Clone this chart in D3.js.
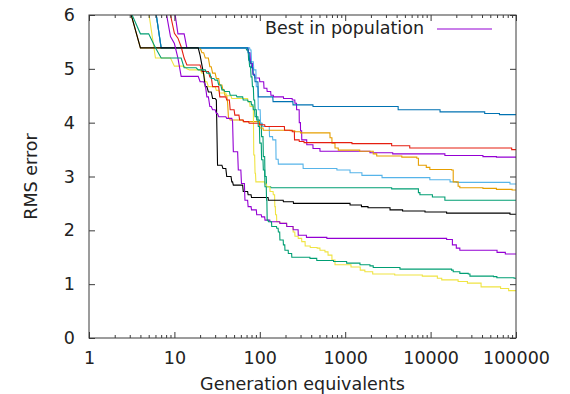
<!DOCTYPE html>
<html lang="en">
  <head>
    <meta charset="utf-8">
    <title>RMS error vs generation equivalents</title>
    <script type="text/javascript" src="https://d3js.org/d3.v7.min.js"></script>
    <style>
      body { margin: 0; background: #fff; }
      text { font-family: "DejaVu Sans", sans-serif; fill: #222; }
    </style>
  </head>
  <body>
    <svg class="chart"></svg>
  </body>

  <script>
    //Constants
    const width = 570, height = 394;
    const plotLeft = 89, plotRight = 516, plotTop = 15, plotBottom = 338;
    const fontSize = 17.5;

    const xTicks = [1, 10, 100, 1000, 10000, 100000];
    const yTicks = [0, 1, 2, 3, 4, 5, 6];
    const legendLabel = "Best in population";
    const xTitle = "Generation equivalents";
    const yTitle = "RMS error";

    // gnuplot default line colours, in plotting order
    const colors = ["#9400d3", "#009e73", "#56b4e9", "#e69f00", "#f0e442",
                    "#0072b2", "#e51e10", "#000000", "#9400d3", "#009e73"];

    // each run: [generation where a new best appeared, RMS error]
    const run1 = [[1,7],[10,6.1],[11,5.65],[14,5.39],[74,5.3],[78,5.1],[83,4.9],[88,4.83],[100,4.76],[112,4.64],
      [122,4.58],[135,4.51],[145,4.48],[190,4.45],[240,4.42],[258,4.36],[270,4.24],[290,4.0],[300,3.85],[310,3.68],
      [355,3.59],[420,3.52],[507,3.47],[1950,3.44],[3600,3.42],[14700,3.39],[41000,3.37],[59000,3.36]];
    const run2 = [[1,7],[6,6.1],[7,5.39],[70,5.35],[74,5.16],[76,5.04],[79,4.85],[82,4.67],[85,4.42],[88,4.24],
      [92,4.05],[100,3.99],[105,3.74],[110,3.37],[115,3.0],[120,2.81],[135,2.79],[3500,2.77],[7200,2.7],
      [7500,2.66],[10500,2.62],[14700,2.56]];
    const run3 = [[1,7],[6,6.1],[7,5.39],[77,5.35],[80,5.13],[85,4.98],[91,4.67],[96,4.24],[102,3.99],[108,3.93],
      [130,3.74],[142,3.68],[155,3.32],[165,3.23],[322,3.15],[800,3.12],[1140,3.07],[1570,3.02],[2700,2.98],
      [9800,2.94],[16900,2.9],[20000,2.89],[85000,2.86]];
    const run4 = [[1,7],[3,6.1],[4,5.39],[21,5.3],[23,5.2],[26,5.04],[28,4.92],[31,4.82],[34,4.7],[37,4.61],
      [39,4.51],[42,4.36],[43,4.08],[45,4.05],[64,4.02],[100,3.9],[110,3.86],[226,3.85],[258,3.83],[300,3.81],
      [664,3.72],[700,3.62],[760,3.53],[830,3.49],[1480,3.47],[2130,3.42],[2340,3.38],[4600,3.36],[6900,3.34],
      [7200,3.21],[8900,3.17],[9800,3.13],[17600,3.12],[18400,2.9],[21000,2.82],[22000,2.79],[41000,2.78],
      [59000,2.76],[90000,2.75]];
    const run5 = [[1,7],[5,6.05],[6,5.2],[10,5.05],[14,5.0],[15,4.98],[21,4.92],[23,4.76],[25,4.67],[31,4.6],
      [34,4.55],[41,4.5],[47,4.45],[73,4.39],[77,4.3],[85,3.4],[88,3.06],[90,2.9],[115,2.86],[120,2.81],
      [132,2.72],[144,2.66],[150,2.44],[153,2.29],[158,2.16],[172,2.13],[207,2.07],[246,1.97],[258,1.89],
      [282,1.85],[310,1.79],[340,1.71],[390,1.68],[470,1.67],[507,1.63],[580,1.6],[630,1.54],[700,1.45],
      [760,1.36],[1170,1.32],[1500,1.26],[1700,1.23],[2100,1.19],[3800,1.17],[8000,1.15],[12000,1.11],
      [13500,1.08],[21000,1.05],[27000,1.02],[39000,0.95],[66000,0.92],[82000,0.88]];
    const run6 = [[1,7],[6,6.1],[7,5.39],[73,5.3],[76,5.13],[80,5.02],[84,4.88],[88,4.76],[96,4.48],[143,4.39],
      [245,4.33],[420,4.3],[4170,4.24],[12900,4.2],[43000,4.17],[64000,4.15]];
    const run7 = [[1,7],[9,6.0],[10,5.66],[11,5.57],[12,5.41],[13,5.2],[14,5.07],[21,4.95],[26,4.85],[28,4.67],
      [34,4.48],[41,4.42],[45,4.24],[51,4.14],[58,4.05],[65,4.02],[75,3.99],[100,3.96],[115,3.93],[195,3.86],
      [240,3.83],[255,3.68],[290,3.65],[330,3.63],[1200,3.61],[3500,3.57],[5700,3.53],[89000,3.5]];
    const run8 = [[1,7],[3,6.1],[4,5.39],[20,5.25],[21,5.07],[22,4.9],[23,4.67],[25,4.57],[28,4.45],[31,4.42],
      [32,3.21],[37,3.15],[41,3.0],[47,2.9],[49,2.84],[64,2.72],[73,2.66],[80,2.61],[126,2.56],[189,2.53],
      [248,2.5],[1140,2.47],[1550,2.44],[1850,2.42],[3350,2.38],[4700,2.36],[8600,2.34],[15400,2.32],[85000,2.3]];
    const run9 = [[1,7],[8,6.05],[9,5.6],[10,5.47],[11,5.2],[12,4.86],[20,4.76],[23,4.7],[24,4.48],[26,4.3],
      [28,4.24],[31,4.17],[33,4.11],[41,4.08],[48,4.02],[49,3.46],[56,3.12],[61,2.87],[67,2.56],[73,2.44],
      [80,2.38],[92,2.29],[105,2.25],[115,2.19],[132,2.16],[172,2.13],[207,2.07],[246,2.01],[282,1.91],
      [352,1.87],[610,1.85],[15400,1.83],[18000,1.73],[20000,1.67],[22000,1.63],[60000,1.59],[75000,1.56]];
    const run10 = [[1,7],[3,6.1],[4,5.65],[6,5.39],[7,5.2],[13,5.02],[19,4.98],[24,4.92],[27,4.82],[30,4.79],
      [33,4.7],[36,4.61],[39,4.58],[45,4.51],[54,4.48],[64,4.42],[73,4.39],[80,4.33],[84,4.24],[88,4.11],
      [96,3.93],[100,3.62],[105,3.31],[110,3.12],[115,2.81],[120,2.56],[122,2.19],[126,2.16],[138,2.07],
      [158,2.04],[165,1.97],[172,1.82],[189,1.73],[197,1.63],[216,1.57],[237,1.5],[387,1.48],[465,1.44],
      [730,1.42],[1040,1.39],[1490,1.36],[1950,1.34],[2130,1.31],[4380,1.28],[17600,1.26],[18400,1.23],
      [22000,1.2],[27600,1.19],[28900,1.15],[54500,1.14],[59700,1.12],[95000,1.11]];

    const runs = [run1, run2, run3, run4, run5, run6, run7, run8, run9, run10];

    var svg = d3.select(".chart").attr("width", width).attr("height", height);

    var x = d3.scaleLog().domain([1, 100000]).range([plotLeft, plotRight]);
    var y = d3.scaleLinear().domain([0, 6]).range([plotBottom, plotTop]);

    // minor ticks 2..9 in every decade
    var minor = [];
    for (var d = 1; d < 100000; d *= 10) {
      for (var k = 2; k < 10; k++) minor.push(d * k);
    }

    svg.append("clipPath").attr("id", "plotArea")
      .append("rect")
        .attr("x", plotLeft).attr("y", plotTop)
        .attr("width", plotRight - plotLeft).attr("height", plotBottom - plotTop);

    /*
      runs are stored as improvements only; the value is held until the
      generation before the next improvement, like the logged data
    */
    function stepPoints(run) {
      var pts = [];
      for (var i = 0; i < run.length; i++) {
        var g = run[i][0], v = run[i][1];
        pts.push([g, v]);
        var hold = i + 1 < run.length ? run[i + 1][0] - 1 : 100000;
        if (hold > g) pts.push([hold, v]);
      }
      return pts;
    }

    var line = d3.line().x(d => x(d[0])).y(d => y(d[1]));

    svg.append("g")
      .attr("clip-path", "url(#plotArea)")
      .selectAll("path")
      .data(runs)
      .enter()
      .append("path")
        .attr("fill", "none")
        .attr("stroke", (d, i) => colors[i])
        .attr("stroke-width", 1.1)
        .attr("stroke-linejoin", "miter")
        .attr("d", d => line(stepPoints(d)));

    //axes, gnuplot style: ticks point inwards and are mirrored
    var axisColor = "#3a3a3a";
    function styleAxis(g) {
      g.select(".domain").remove();
      g.selectAll(".tick line").attr("stroke", axisColor);
      g.selectAll(".tick text")
        .attr("font-size", fontSize)
        .attr("font-family", "DejaVu Sans, sans-serif")
        .attr("fill", "#222");
    }

    svg.append("g")
      .attr("transform", "translate(0," + plotBottom + ")")
      .call(d3.axisBottom(x).tickValues(xTicks).tickSize(-6).tickPadding(14).tickFormat(d3.format("d")))
      .call(styleAxis);
    svg.append("g")
      .attr("transform", "translate(0," + plotBottom + ")")
      .call(d3.axisBottom(x).tickValues(minor).tickSize(-3).tickFormat(""))
      .call(styleAxis);
    svg.append("g")
      .attr("transform", "translate(0," + plotTop + ")")
      .call(d3.axisTop(x).tickValues(xTicks).tickSize(-6).tickFormat(""))
      .call(styleAxis);
    svg.append("g")
      .attr("transform", "translate(0," + plotTop + ")")
      .call(d3.axisTop(x).tickValues(minor).tickSize(-3).tickFormat(""))
      .call(styleAxis);
    svg.append("g")
      .attr("transform", "translate(" + plotLeft + ",0)")
      .call(d3.axisLeft(y).tickValues(yTicks).tickSize(-6).tickPadding(14).tickFormat(d3.format("d")))
      .call(styleAxis);
    svg.append("g")
      .attr("transform", "translate(" + plotRight + ",0)")
      .call(d3.axisRight(y).tickValues(yTicks).tickSize(-6).tickFormat(""))
      .call(styleAxis);

    svg.append("rect")
      .attr("x", plotLeft).attr("y", plotTop)
      .attr("width", plotRight - plotLeft).attr("height", plotBottom - plotTop)
      .attr("fill", "none")
      .attr("stroke", axisColor)
      .attr("stroke-width", 1);

    //axis titles
    svg.append("text")
      .attr("x", (plotLeft + plotRight) / 2)
      .attr("y", 390)
      .attr("text-anchor", "middle")
      .attr("font-size", fontSize)
      .text(xTitle);

    svg.append("text")
      .attr("transform", "translate(37," + (plotTop + plotBottom) / 2 + ") rotate(-90)")
      .attr("text-anchor", "middle")
      .attr("font-size", fontSize)
      .text(yTitle);

    //legend (first run only)
    svg.append("text")
      .attr("x", 424)
      .attr("y", 34)
      .attr("text-anchor", "end")
      .attr("font-size", fontSize)
      .text(legendLabel);
    svg.append("line")
      .attr("x1", 437).attr("x2", 492)
      .attr("y1", 29).attr("y2", 29)
      .attr("stroke", colors[0])
      .attr("stroke-width", 1.1);
  </script>
</html>
